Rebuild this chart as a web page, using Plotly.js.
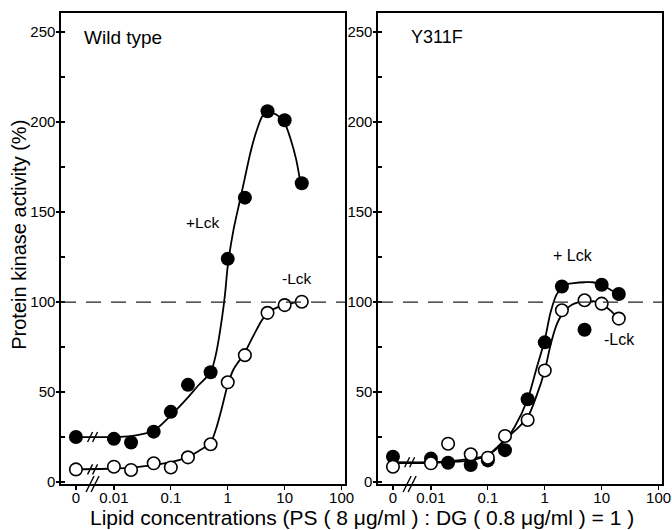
<!DOCTYPE html>
<html>
<head>
<meta charset="utf-8">
<script src="https://cdn.plot.ly/plotly-3.0.1.min.js"></script>
<style>html,body{margin:0;padding:0;background:#fff;}#chart{width:672px;height:530px;}</style>
</head>
<body>
<div id="chart"></div>
<script>
// ---- data ----
const conc = [0, 0.01, 0.02, 0.05, 0.1, 0.2, 0.5, 1, 2, 5, 10, 20];
const wtPlus   = [25, 24, 22, 28, 39, 54, 61, 124, 158, 206, 201, 166];
const wtMinus  = [7, 8.5, 6.7, 10.4, 8.1, 13.7, 21, 55.4, 70.5, 94, 98.3, 100.2];
const mutPlus  = [14, 13, 10.7, 9.4, 12, 17.7, 46, 77.6, 108.6, 84.6, 109.6, 104.5];
const mutMinus = [8.5, 10.4, 21.3, 15.4, 13.5, 25.6, 34.5, 62, 95.4, 101, 99.1, 90.8];

// fitted curves
const wtPlusCurveX  = [0, 0.01, 0.02, 0.03, 0.05, 0.1, 0.2, 0.3, 0.5, 0.63, 0.8, 0.9, 1, 1.26, 1.6, 2, 2.5, 3.2, 4, 4.8, 6.3, 8, 10, 12.6, 16, 19];
const wtPlusCurveY  = [25, 25, 25.5, 26.5, 28.5, 37, 47, 53.5, 61, 72, 92, 105, 120, 140, 155, 169, 183, 195, 203, 205.5, 205, 203, 199.5, 191, 179, 166];
const wtMinusCurveX = [0, 0.01, 0.02, 0.05, 0.1, 0.2, 0.3, 0.5, 0.63, 0.8, 1, 1.26, 1.6, 2, 2.5, 3.2, 4, 5, 6.3, 8, 10, 14, 20];
const wtMinusCurveY = [7, 7.5, 8, 9.5, 11, 14, 17, 22, 30, 42, 54, 62.5, 67.5, 72, 78, 84.5, 90, 93.7, 96, 97.5, 98.5, 99.5, 100.2];
const mutPlusCurveX  = [0, 0.01, 0.02, 0.05, 0.1, 0.2, 0.3, 0.5, 0.7, 1, 1.26, 1.6, 2, 2.5, 3.2, 5, 7, 10, 14, 20];
const mutPlusCurveY  = [11, 11, 11.5, 13, 15, 23, 31, 46, 62, 79, 94, 104, 108, 110, 110.5, 111, 111, 109.5, 107, 104];
const mutMinusCurveX = [0, 0.01, 0.02, 0.05, 0.1, 0.2, 0.3, 0.5, 0.7, 1, 1.26, 1.6, 2, 3, 5, 7, 10, 14, 20];
const mutMinusCurveY = [10.5, 10.5, 11, 12, 15, 23.5, 28.5, 36, 47, 62, 76, 87, 93, 98.5, 100.5, 100.5, 99, 95.5, 90.5];

const xTickVals = [0, 0.01, 0.1, 1, 10, 100];
const xTickText = ['0', '0.01', '0.1', '1', '10', '100'];
const refLevel = 100;
const panelTitles = ['Wild type', 'Y311F'];

// ---- plotting ----
const ZERO_AT = 0.00215; // axis position used for the "0" concentration (broken axis)
const xp = c => (c === 0 ? ZERO_AT : c);
const FONT = 'Liberation Sans, Arial, sans-serif';

function curve(xs, ys, xa, ya) {
  return {x: xs.map(xp), y: ys, xaxis: xa, yaxis: ya, mode: 'lines',
    line: {color: 'black', width: 1.8, shape: 'spline', smoothing: 0.8},
    hoverinfo: 'skip', showlegend: false};
}
function pts(ys, filled, xa, ya) {
  return {x: conc.map(xp), y: ys, xaxis: xa, yaxis: ya, mode: 'markers',
    marker: filled
      ? {symbol: 'circle', size: 14, color: 'black', line: {width: 0}}
      : {symbol: 'circle', size: 12.5, color: 'white', line: {color: 'black', width: 1.6}},
    showlegend: false};
}

const data = [
  curve(wtPlusCurveX, wtPlusCurveY, 'x', 'y'),
  curve(wtMinusCurveX, wtMinusCurveY, 'x', 'y'),
  curve(mutPlusCurveX, mutPlusCurveY, 'x2', 'y2'),
  curve(mutMinusCurveX, mutMinusCurveY, 'x2', 'y2'),
  pts(wtPlus, true, 'x', 'y'),
  pts(wtMinus, false, 'x', 'y'),
  pts(mutPlus, true, 'x2', 'y2'),
  pts(mutMinus, false, 'x2', 'y2')
];

function xax(domain, anchor) {
  return {type: 'log', domain: domain, anchor: anchor, range: [-2.93, 2.06],
    tickmode: 'array', tickvals: xTickVals.map(xp), ticktext: xTickText,
    ticks: 'outside', ticklen: 4, tickwidth: 1.2, tickcolor: 'black',
    ticklabelstandoff: -5,
    showline: true, mirror: true, linewidth: 1.6, linecolor: 'black',
    showgrid: false, zeroline: false, tickfont: {size: 15, color: 'black', family: FONT}};
}
function yax(anchor) {
  return {domain: [0, 1], anchor: anchor, range: [-1.1, 260.6],
    tickmode: 'linear', tick0: 0, dtick: 50,
    ticks: 'outside', ticklen: 3, tickwidth: 1.2, tickcolor: 'black',
    ticklabelstandoff: -2,
    minor: {dtick: 25, tick0: 0, ticks: 'inside', ticklen: 4, tickwidth: 1.2, tickcolor: 'black', showgrid: false},
    showline: true, mirror: true, linewidth: 1.6, linecolor: 'black',
    showgrid: false, zeroline: false, tickfont: {size: 15, color: 'black', family: FONT}};
}

function dashed(xref, yref) {
  return {type: 'line', xref: xref + ' domain', x0: 0, x1: 1, yref: yref, y0: refLevel, y1: refLevel,
    line: {color: '#222', width: 1.3, dash: '15px,10px'}};
}

// axis-break "//" marks, sized in pixels around an anchor
function brk(xref, yref, yanchor, h) {
  const w = h * 0.5, out = [];
  [-3, 2].forEach(off => {
    out.push({type: 'line', xref: xref + ' domain', xsizemode: 'pixel', xanchor: 0.113,
      x0: off - w / 2, x1: off + w / 2, yref: yref, ysizemode: 'pixel', yanchor: yanchor,
      y0: -h / 2, y1: h / 2, line: {color: 'black', width: 1.4}});
  });
  return out;
}

function txt(text, xref, x, yref, y, size, anchor) {
  return {text: text, xref: xref, x: x, yref: yref, y: y, showarrow: false,
    xanchor: anchor || 'center', yanchor: 'middle', font: {size: size, color: 'black', family: FONT}};
}

const annotations = [
  txt(panelTitles[0], 'x domain', 0.075, 'y', 247, 19, 'left'),
  txt(panelTitles[1], 'x2 domain', 0.11, 'y2', 247, 18, 'left'),
  txt('+Lck', 'x domain', 0.5, 'y', 144, 15.5),
  txt('-Lck', 'x domain', 0.83, 'y', 113, 15.5),
  txt('+ Lck', 'x2 domain', 0.687, 'y2', 126, 16),
  txt('-Lck', 'x2 domain', 0.852, 'y2', 79, 16),
  {text: 'Protein kinase activity (%)', xref: 'paper', x: -0.07, yref: 'paper', y: 0.529,
    textangle: -90, showarrow: false, xanchor: 'center', yanchor: 'middle',
    font: {size: 20, color: 'black', family: FONT}},
  {text: 'Lipid concentrations (PS ( 8 \u03bcg/ml ) : DG ( 0.8 \u03bcg/ml ) = 1 )', xref: 'paper', x: 0.5008,
    yref: 'paper', y: -0.072, showarrow: false, xanchor: 'center', yanchor: 'middle',
    font: {size: 21, color: 'black', family: FONT}}
];

const shapes = [dashed('x', 'y'), dashed('x2', 'y2')]
  .concat(brk('x', 'y domain', 0, 16))
  .concat(brk('x', 'y', 25, 10))
  .concat(brk('x', 'y', 7, 10))
  .concat(brk('x2', 'y2 domain', 0, 16))
  .concat(brk('x2', 'y2', 11, 10));

const layout = {
  width: 672, height: 530,
  margin: {l: 61, r: 10, t: 13, b: 46},
  paper_bgcolor: 'white', plot_bgcolor: 'white',
  font: {family: FONT, color: 'black'},
  showlegend: false,
  xaxis: xax([0, 0.4725], 'y'),
  yaxis: yax('x'),
  xaxis2: xax([0.5275, 1], 'y2'),
  yaxis2: yax('x2'),
  shapes: shapes,
  annotations: annotations
};

Plotly.newPlot('chart', data, layout, {staticPlot: true, displayModeBar: false});
</script>
</body>
</html>
